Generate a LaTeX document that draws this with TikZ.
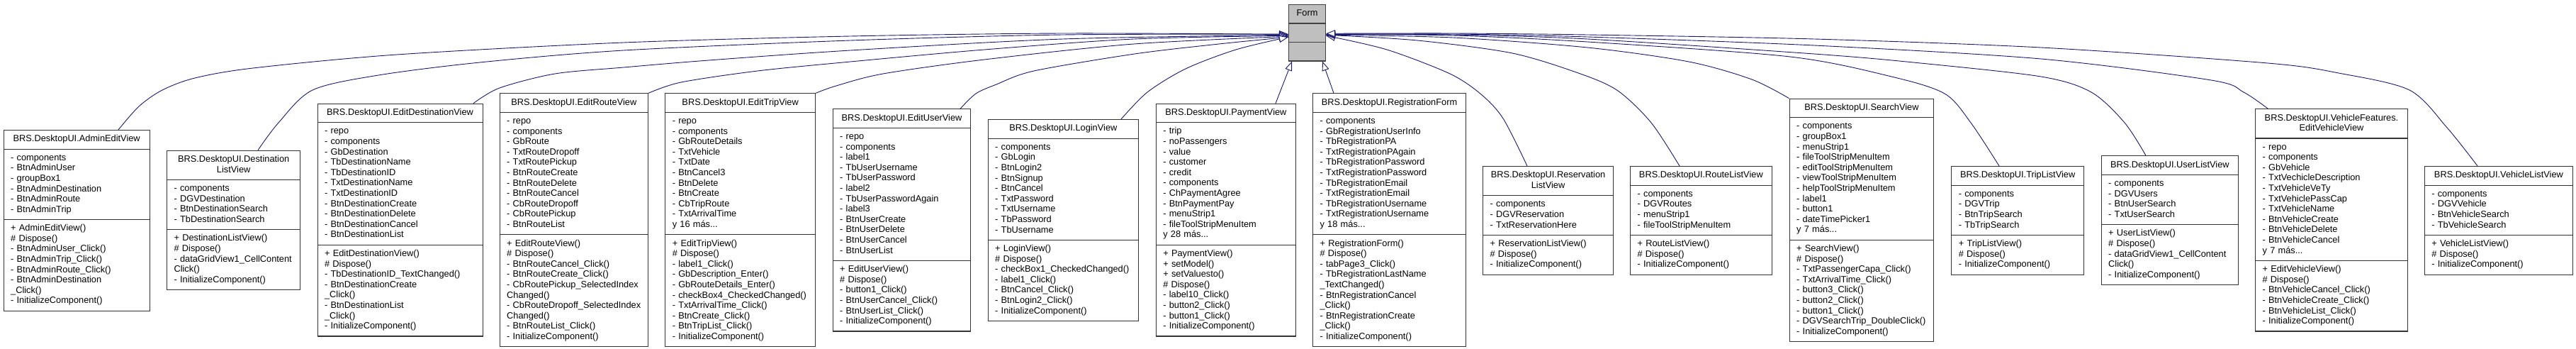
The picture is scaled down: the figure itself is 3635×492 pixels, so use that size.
\documentclass[tikz,border=0pt]{standalone}
\usepackage{fontspec}
\setmainfont{Liberation Sans}
\usetikzlibrary{shapes.multipart,arrows.meta}
\definecolor{edgeblue}{HTML}{191970}
\newcommand{\umlfont}{\fontsize{12.8pt}{14.6pt}\selectfont}
\newcommand{\ctitle}[1]{\strut\makebox[\hsize][c]{#1}}
\newcommand{\ctitletwo}[2]{\ctitle{\begin{tabular}{@{}c@{}}#1\\#2\end{tabular}}}
\hyphenpenalty=10000
\exhyphenpenalty=10000

\begin{document}
\begin{tikzpicture}[x=1pt, y=-1pt,
  classbox/.style={rectangle split, rectangle split parts=3, draw=black!80, line width=1.1pt,
    fill=white, font=\umlfont, inner xsep=10pt, inner ysep=5.4pt, align=left, anchor=north west},
  formbox/.style={classbox, fill=black!25, draw=black!75},
  inherit/.style={edgeblue, line width=0.9pt, -{Triangle[length=13pt, width=10pt, fill=white]}}]

\path[use as bounding box, fill=white] (0,0) rectangle (3635,492);

% base class
\node[formbox, text width=32pt] (form) at (1818,6)
  {\ctitle{Form}\nodepart{second}\strut\nodepart{third}\strut};

% derived classes, left to right
\node[classbox, text width=186.1pt] (admin) at (4.6,183)
  {\ctitle{BRS.DesktopUI.AdminEditView}
   \nodepart{second}\strut -~components\\ -~BtnAdminUser\\ -~groupBox1\\ -~BtnAdminDestination\\
   -~BtnAdminRoute\\ -~BtnAdminTrip\strut
   \nodepart{third}\strut +~AdminEditView()\\ \#~Dispose()\\ -~BtnAdminUser\_Click()\\
   -~BtnAdminTrip\_Click()\\ -~BtnAdminRoute\_Click()\\ -~BtnAdminDestination\\ \_Click()\\
   -~InitializeComponent()\strut};
\node[classbox, text width=168.2pt] (destlist) at (235,211.7)
  {\ctitletwo{BRS.DesktopUI.Destination}{ListView}
   \nodepart{second}\strut -~components\\ -~DGVDestination\\ -~BtnDestinationSearch\\
   -~TbDestinationSearch\strut
   \nodepart{third}\strut +~DestinationListView()\\ \#~Dispose()\\ -~dataGridView1\_CellContent\\
   Click()\\ -~InitializeComponent()\strut};
\node[classbox, text width=213pt] (editdest) at (447.5,145.7)
  {\ctitle{BRS.DesktopUI.EditDestinationView}
   \nodepart{second}\strut -~repo\\ -~components\\ -~GbDestination\\ -~TbDestinationName\\
   -~TbDestinationID\\ -~TxtDestinationName\\ -~TxtDestinationID\\ -~BtnDestinationCreate\\
   -~BtnDestinationDelete\\ -~BtnDestinationCancel\\ -~BtnDestinationList\strut
   \nodepart{third}\strut +~EditDestinationView()\\ \#~Dispose()\\ -~TbDestinationID\_TextChanged()\\
   -~BtnDestinationCreate\\ \_Click()\\ -~BtnDestinationList\\ \_Click()\\
   -~InitializeComponent()\strut};
\node[classbox, text width=189.4pt] (editroute) at (704.6,131.3)
  {\ctitle{BRS.DesktopUI.EditRouteView}
   \nodepart{second}\strut -~repo\\ -~components\\ -~GbRoute\\ -~TxtRouteDropoff\\
   -~TxtRoutePickup\\ -~BtnRouteCreate\\ -~BtnRouteDelete\\ -~BtnRouteCancel\\
   -~CbRouteDropoff\\ -~CbRoutePickup\\ -~BtnRouteList\strut
   \nodepart{third}\strut +~EditRouteView()\\ \#~Dispose()\\ -~BtnRouteCancel\_Click()\\
   -~BtnRouteCreate\_Click()\\ -~CbRoutePickup\_SelectedIndex\\ Changed()\\
   -~CbRouteDropoff\_SelectedIndex\\ Changed()\\ -~BtnRouteList\_Click()\\
   -~InitializeComponent()\strut};
\node[classbox, text width=191.8pt] (edittrip) at (938.2,131.3)
  {\ctitle{BRS.DesktopUI.EditTripView}
   \nodepart{second}\strut -~repo\\ -~components\\ -~GbRouteDetails\\ -~TxtVehicle\\
   -~TxtDate\\ -~BtnCancel3\\ -~BtnDelete\\ -~BtnCreate\\ -~CbTripRoute\\
   -~TxtArrivalTime\\ y~16~más...\strut
   \nodepart{third}\strut +~EditTripView()\\ \#~Dispose()\\ -~label1\_Click()\\
   -~GbDescription\_Enter()\\ -~GbRouteDetails\_Enter()\\ -~checkBox4\_CheckedChanged()\\
   -~TxtArrivalTime\_Click()\\ -~BtnCreate\_Click()\\ -~BtnTripList\_Click()\\
   -~InitializeComponent()\strut};
\node[classbox, text width=174.7pt] (edituser) at (1174.6,153.3)
  {\ctitle{BRS.DesktopUI.EditUserView}
   \nodepart{second}\strut -~repo\\ -~components\\ -~label1\\ -~TbUserUsername\\
   -~TbUserPassword\\ -~label2\\ -~TbUserPasswordAgain\\ -~label3\\ -~BtnUserCreate\\
   -~BtnUserDelete\\ -~BtnUserCancel\\ -~BtnUserList\strut
   \nodepart{third}\strut +~EditUserView()\\ \#~Dispose()\\ -~button1\_Click()\\
   -~BtnUserCancel\_Click()\\ -~BtnUserList\_Click()\\ -~InitializeComponent()\strut};
\node[classbox, text width=192.4pt] (login) at (1393.6,168)
  {\ctitle{BRS.DesktopUI.LoginView}
   \nodepart{second}\strut -~components\\ -~GbLogin\\ -~BtnLogin2\\ -~BtnSignup\\
   -~BtnCancel\\ -~TxtPassword\\ -~TxtUsername\\ -~TbPassword\\ -~TbUsername\strut
   \nodepart{third}\strut +~LoginView()\\ \#~Dispose()\\ -~checkBox1\_CheckedChanged()\\
   -~label1\_Click()\\ -~BtnCancel\_Click()\\ -~BtnLogin2\_Click()\\
   -~InitializeComponent()\strut};
\node[classbox, text width=177.2pt] (payment) at (1630.7,145.7)
  {\ctitle{BRS.DesktopUI.PaymentView}
   \nodepart{second}\strut -~trip\\ -~noPassengers\\ -~value\\ -~customer\\ -~credit\\
   -~components\\ -~ChPaymentAgree\\ -~BtnPaymentPay\\ -~menuStrip1\\
   -~fileToolStripMenuItem\\ y~28~más...\strut
   \nodepart{third}\strut +~PaymentView()\\ +~setModel()\\ +~setValuesto()\\ \#~Dispose()\\
   -~label10\_Click()\\ -~button2\_Click()\\ -~button1\_Click()\\
   -~InitializeComponent()\strut};
\node[classbox, text width=195.9pt] (registration) at (1852,131.3)
  {\ctitle{BRS.DesktopUI.RegistrationForm}
   \nodepart{second}\strut -~components\\ -~GbRegistrationUserInfo\\ -~TbRegistrationPA\\
   -~TxtRegistrationPAgain\\ -~TbRegistrationPassword\\ -~TxtRegistrationPassword\\
   -~TbRegistrationEmail\\ -~TxtRegistrationEmail\\ -~TbRegistrationUsername\\
   -~TxtRegistrationUsername\\ y~18~más...\strut
   \nodepart{third}\strut +~RegistrationForm()\\ \#~Dispose()\\ -~tabPage3\_Click()\\
   -~TbRegistrationLastName\\ \_TextChanged()\\ -~BtnRegistrationCancel\\ \_Click()\\
   -~BtnRegistrationCreate\\ \_Click()\\ -~InitializeComponent()\strut};
\node[classbox, text width=164pt] (reservation) at (2092,234)
  {\ctitletwo{BRS.DesktopUI.Reservation}{ListView}
   \nodepart{second}\strut -~components\\ -~DGVReservation\\ -~TxtReservationHere\strut
   \nodepart{third}\strut +~ReservationListView()\\ \#~Dispose()\\
   -~InitializeComponent()\strut};
\node[classbox, text width=179.6pt] (routelist) at (2300,234)
  {\ctitle{BRS.DesktopUI.RouteListView}
   \nodepart{second}\strut -~components\\ -~DGVRoutes\\ -~menuStrip1\\
   -~fileToolStripMenuItem\strut
   \nodepart{third}\strut +~RouteListView()\\ \#~Dispose()\\ -~InitializeComponent()\strut};
\node[classbox, text width=183.6pt] (search) at (2524.6,138.7)
  {\ctitle{BRS.DesktopUI.SearchView}
   \nodepart{second}\strut -~components\\ -~groupBox1\\ -~menuStrip1\\
   -~fileToolStripMenuItem\\ -~editToolStripMenuItem\\ -~viewToolStripMenuItem\\
   -~helpToolStripMenuItem\\ -~label1\\ -~button1\\ -~dateTimePicker1\\ y~7~más...\strut
   \nodepart{third}\strut +~SearchView()\\ \#~Dispose()\\ -~TxtPassengerCapa\_Click()\\
   -~TxtArrivalTime\_Click()\\ -~button3\_Click()\\ -~button2\_Click()\\
   -~button1\_Click()\\ -~DGVSearchTrip\_DoubleClick()\\ -~InitializeComponent()\strut};
\node[classbox, text width=166.8pt] (triplist) at (2753.2,234)
  {\ctitle{BRS.DesktopUI.TripListView}
   \nodepart{second}\strut -~components\\ -~DGVTrip\\ -~BtnTripSearch\\ -~TbTripSearch\strut
   \nodepart{third}\strut +~TripListView()\\ \#~Dispose()\\ -~InitializeComponent()\strut};
\node[classbox, text width=173.3pt] (userlist) at (2964.6,219.3)
  {\ctitle{BRS.DesktopUI.UserListView}
   \nodepart{second}\strut -~components\\ -~DGVUsers\\ -~BtnUserSearch\\ -~TxtUserSearch\strut
   \nodepart{third}\strut +~UserListView()\\ \#~Dispose()\\ -~dataGridView1\_CellContent\\
   Click()\\ -~InitializeComponent()\strut};
\node[classbox, text width=194.8pt] (editvehicle) at (3182,153.3)
  {\ctitletwo{BRS.DesktopUI.VehicleFeatures.}{EditVehicleView}
   \nodepart{second}\strut -~repo\\ -~components\\ -~GbVehicle\\ -~TxtVechicleDescription\\
   -~TxtVehicleVeTy\\ -~TxtVehiclePassCap\\ -~TxtVehicleName\\ -~BtnVehicleCreate\\
   -~BtnVehicleDelete\\ -~BtnVehicleCancel\\ y~7~más...\strut
   \nodepart{third}\strut +~EditVehicleView()\\ \#~Dispose()\\ -~BtnVehicleCancel\_Click()\\
   -~BtnVehicleCreate\_Click()\\ -~BtnVehicleList\_Click()\\ -~InitializeComponent()\strut};
\node[classbox, text width=189.3pt] (vehiclelist) at (3420.7,234)
  {\ctitle{BRS.DesktopUI.VehicleListView}
   \nodepart{second}\strut -~components\\ -~DGVVehicle\\ -~BtnVehicleSearch\\
   -~TbVehicleSearch\strut
   \nodepart{third}\strut +~VehicleListView()\\ \#~Dispose()\\ -~InitializeComponent()\strut};

% inheritance, left side of Form
\draw[inherit] plot[smooth] coordinates {([xshift=162.4pt]admin.north west) (196,150) (229,127)
  (275,110) (357,96) (560,77) (880,60) (1200,51) (1500,47) ([yshift=-2pt]form.west)};
\draw[inherit] plot[smooth] coordinates {([xshift=129pt]destlist.north west) (393,173) (441,127)
  (534,106) (677,88) (880,71) (1200,57) (1500,49) ([yshift=-2pt]form.west)};
\draw[inherit] plot[smooth] coordinates {([xshift=220.5pt]editdest.north west) (705,124) (783,104)
  (880,95) (1000,85) (1200,71) (1500,55) ([yshift=-3pt]form.west)};
\draw[inherit] plot[smooth] coordinates {(editroute.north east) (961,116) (1069,100) (1200,87)
  (1389,70) (1600,55) ([yshift=-4pt]form.west)};
\draw[inherit] plot[smooth] coordinates {(edittrip.north east) (1180,121) (1246,104) (1389,84)
  (1600,62) ([yshift=-5pt]form.west)};
\draw[inherit] plot[smooth] coordinates {([xshift=180.4pt]edituser.north west) (1377,132)
  (1406,119) (1459,100) (1601,76) (1720,62) ([yshift=-6pt]form.west)};
\draw[inherit] plot[smooth] coordinates {([xshift=188.4pt]login.north west) (1619,130) (1673,97)
  (1744,70) ([yshift=-6pt]form.west)};

% inheritance, below Form
\draw[inherit] ([xshift=169.3pt]payment.north west) -- ([xshift=5pt]form.south west);
\draw[inherit] ([xshift=30pt]registration.north west) -- ([xshift=-5pt]form.south east);

% inheritance, right side of Form
\draw[inherit] plot[smooth] coordinates {([xshift=63pt]reservation.north west) (2121,167)
  (2090,133) (2046,104) (1957,70) ([yshift=-4pt]form.east)};
\draw[inherit] plot[smooth] coordinates {([xshift=70pt]routelist.north west) (2330,173) (2283,128)
  (2230,104) (2134,75) (2000,57) ([yshift=-3pt]form.east)};
\draw[inherit] plot[smooth] coordinates {(search.north west) (2472,112) (2383,87) (2240,67)
  (2050,53) ([yshift=-3pt]form.east)};
\draw[inherit] plot[smooth] coordinates {([xshift=67.8pt]triplist.north west) (2781,173)
  (2744,132) (2669,108) (2526,80) (2240,59) (2050,50) ([yshift=-2pt]form.east)};
\draw[inherit] plot[smooth] coordinates {([xshift=63.4pt]userlist.north west) (2998,173)
  (2951,130) (2880,108) (2700,88) (2560,76) (2240,55) (2050,49) ([yshift=-2pt]form.east)};
\draw[inherit] plot[smooth] coordinates {([xshift=18.4pt]editvehicle.north west) (3166,130)
  (3120,113) (2880,83) (2560,64) (2240,52) (2050,48) ([yshift=-2pt]form.east)};
\draw[inherit] plot[smooth] coordinates {([xshift=75.3pt]vehiclelist.north west) (3453,180)
  (3400,127) (3300,103) (3200,89) (2880,67) (2560,55) (2240,49) (2050,47) ([yshift=-1pt]form.east)};

\end{tikzpicture}
\end{document}
